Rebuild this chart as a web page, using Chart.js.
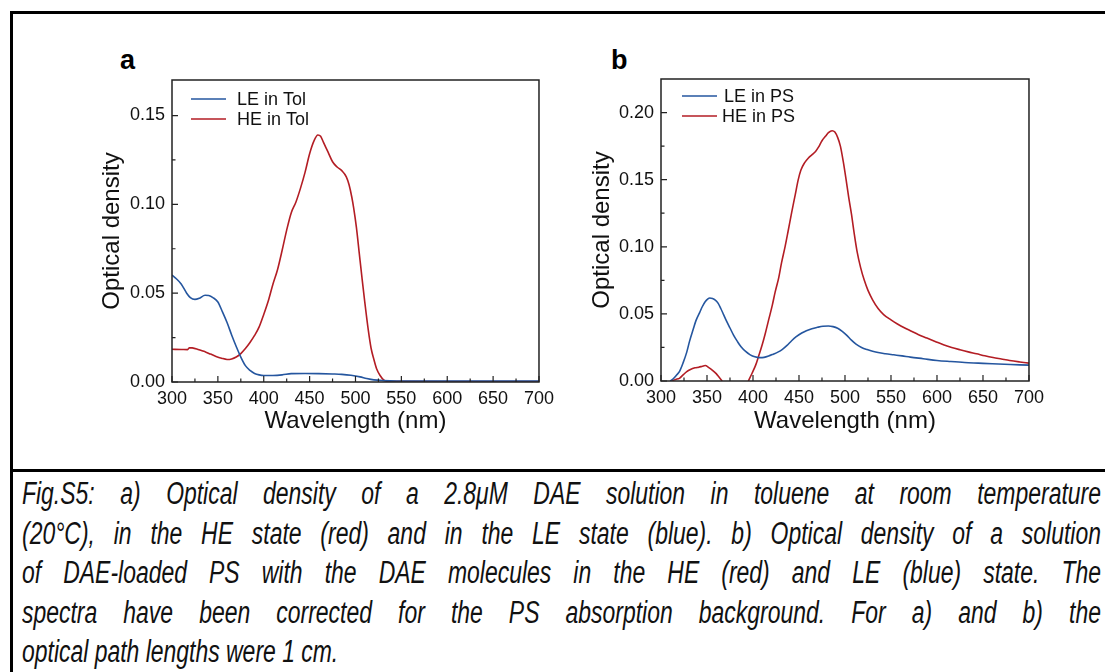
<!DOCTYPE html>
<html>
<head>
<meta charset="utf-8">
<script src="https://cdn.jsdelivr.net/npm/chart.js@4.4.1/dist/chart.umd.min.js"></script>
<style>
    body { margin: 0; width: 1105px; height: 672px; overflow: hidden; background: #fff; position: relative; font-family: 'Liberation Sans', Arial, sans-serif; }
    .frame { position: absolute; left: 10px; top: 11px; width: 1200px; height: 800px; border: 3px solid #000; box-sizing: border-box; }
    .divider { position: absolute; left: 10px; top: 469px; width: 1200px; height: 3px; background: #000; }
    .panel { position: absolute; font-weight: bold; font-size: 27px; line-height: 27px; color: #000; }
    canvas { position: absolute; }
    /* caption set in a narrow italic: squeeze a wider box back to 1079px */
    .caption { position: absolute; left: 22px; top: 474px; width: 1458px; transform: scaleX(0.74); transform-origin: 0 0; font-style: italic; font-size: 31px; line-height: 39.5px; color: #111; }
    .caption div { text-align: justify; text-align-last: justify; white-space: nowrap; }
    .caption div.last { text-align-last: left; }
</style>
</head>
<body>
<div class="frame"></div>
<div class="divider"></div>
<div class="panel" style="left:120px;top:47px">a</div>
<div class="panel" style="left:611px;top:47px">b</div>
<canvas id="chartA" width="470" height="400" style="left:90px;top:40px"></canvas>
<canvas id="chartB" width="470" height="400" style="left:580px;top:40px"></canvas>
<div class="caption">
    <div>Fig.S5: a) Optical density of a 2.8μM DAE solution in toluene at room temperature</div>
    <div>(20°C), in the HE state (red) and in the LE state (blue). b) Optical density of a solution</div>
    <div>of DAE-loaded PS with the DAE molecules in the HE (red) and LE (blue) state. The</div>
    <div>spectra have been corrected for the PS absorption background. For a) and b) the</div>
    <div class="last">optical path lengths were 1 cm.</div>
</div>
<script>
// panel a - toluene
const leTolWl = [300, 305, 310, 316, 320, 325, 330, 336, 340, 345, 350, 355, 360, 365, 370, 375, 380, 385, 390, 395, 400, 410, 420, 430, 445, 460, 475, 485, 495, 505, 512, 520, 530, 545, 600, 650, 700];
const leTolOd = [0.0602, 0.0580, 0.0552, 0.0500, 0.0475, 0.0465, 0.0472, 0.0488, 0.0487, 0.0474, 0.0450, 0.0395, 0.0335, 0.0265, 0.0200, 0.0140, 0.0092, 0.0065, 0.0048, 0.0040, 0.0037, 0.0037, 0.0040, 0.0047, 0.0048, 0.0047, 0.0045, 0.0043, 0.0038, 0.0029, 0.0020, 0.0012, 0.0008, 0.0006, 0.0006, 0.0006, 0.0006];

const heTolWl = [300, 310, 317, 319, 322, 327, 332, 337, 342, 348, 354, 360, 365, 370, 375, 380, 385, 390, 395, 400, 405, 410, 415, 420, 425, 430, 435, 440, 445, 450, 455, 459, 462, 465, 470, 475, 480, 485, 490, 493, 496, 498, 501, 504, 507, 510, 514, 517, 520, 523, 527, 531, 535, 600, 700];
const heTolOd = [0.0184, 0.0183, 0.0182, 0.0193, 0.0192, 0.0186, 0.0177, 0.0168, 0.0157, 0.0144, 0.0134, 0.0127, 0.0130, 0.0141, 0.0160, 0.0188, 0.0222, 0.0262, 0.0310, 0.0380, 0.0457, 0.0550, 0.0632, 0.0740, 0.0855, 0.0953, 0.1012, 0.1090, 0.1180, 0.1285, 0.1360, 0.1390, 0.1383, 0.1350, 0.1295, 0.1240, 0.1210, 0.1190, 0.1155, 0.1110, 0.1040, 0.0980, 0.0870, 0.0730, 0.0590, 0.0455, 0.0290, 0.0190, 0.0128, 0.0075, 0.0035, 0.0010, 0.0004, 0.0003, 0.0003];

// panel b - polystyrene
const lePsWl = [310, 313, 317, 320, 324, 328, 331, 335, 338, 342, 345, 348, 351, 353, 356, 359, 362, 365, 368, 371, 375, 379, 383, 387, 392, 397, 402, 407, 412, 417, 422, 427, 432, 437, 442, 447, 453, 458, 464, 470, 476, 482, 487, 492, 497, 502, 507, 512, 518, 524, 530, 536, 544, 553, 562, 571, 585, 600, 615, 630, 645, 660, 680, 700];
const lePsOd = [0.0000, 0.0015, 0.0045, 0.0070, 0.0135, 0.0215, 0.0295, 0.0385, 0.0450, 0.0510, 0.0555, 0.0590, 0.0612, 0.0618, 0.0614, 0.0603, 0.0580, 0.0540, 0.0495, 0.0450, 0.0395, 0.0340, 0.0295, 0.0255, 0.0220, 0.0195, 0.0180, 0.0174, 0.0176, 0.0186, 0.0200, 0.0215, 0.0236, 0.0265, 0.0300, 0.0330, 0.0358, 0.0375, 0.0390, 0.0400, 0.0408, 0.0410, 0.0405, 0.0393, 0.0370, 0.0340, 0.0305, 0.0275, 0.0250, 0.0234, 0.0222, 0.0212, 0.0203, 0.0195, 0.0187, 0.0178, 0.0166, 0.0153, 0.0145, 0.0138, 0.0133, 0.0128, 0.0123, 0.0118];

const hePsWl = [311, 316, 320, 324, 328, 332, 337, 341, 345, 348, 352, 356, 360, 363, 366.5, 380, 395, 399, 403, 406, 410, 413.5, 417, 421, 424, 428, 431, 435, 438, 442, 446, 449, 452, 456, 460, 464, 468, 471, 475, 479, 482, 486, 489, 492, 495, 498, 501, 504, 507, 510, 513, 517, 521, 525, 530, 536, 542, 550, 557, 565, 571, 580, 589, 598, 607, 616, 625, 634, 643, 652, 661, 670, 679, 690, 700];
const hePsOd = [0.0000, 0.0012, 0.0020, 0.0045, 0.0070, 0.0086, 0.0098, 0.0103, 0.0110, 0.0115, 0.0100, 0.0080, 0.0055, 0.0030, 0.0000, null, 0.0000, 0.0058, 0.0120, 0.0183, 0.0270, 0.0358, 0.0455, 0.0565, 0.0660, 0.0770, 0.0880, 0.1005, 0.1110, 0.1255, 0.1390, 0.1495, 0.1570, 0.1625, 0.1660, 0.1685, 0.1710, 0.1740, 0.1790, 0.1825, 0.1850, 0.1865, 0.1855, 0.1815, 0.1750, 0.1640, 0.1510, 0.1370, 0.1245, 0.1100, 0.0970, 0.0845, 0.0750, 0.0675, 0.0605, 0.0540, 0.0495, 0.0455, 0.0425, 0.0395, 0.0375, 0.0345, 0.0320, 0.0295, 0.0270, 0.0250, 0.0233, 0.0217, 0.0203, 0.0188, 0.0175, 0.0164, 0.0153, 0.0142, 0.0133];

// axes
const xTicks = [300, 350, 400, 450, 500, 550, 600, 650, 700];
const xMinorTicks = [325, 375, 425, 475, 525, 575, 625, 675];
const yTicksA = [0, 0.05, 0.10, 0.15];
const yMinorA = [0.025, 0.075, 0.125];
const yTicksB = [0, 0.05, 0.10, 0.15, 0.20];
const yMinorB = [0.025, 0.075, 0.125, 0.175];

const blue = '#25569f';
const red = '#b31d24';

Chart.defaults.font.family = "'Liberation Sans', Arial, sans-serif";
Chart.defaults.color = '#111';

function toPoints(wl, od) {
    return wl.map((w, i) => ({ x: w, y: od[i] }));
}

// box round the plot area, inward ticks and legend
const frameTicks = {
    id: 'frameTicks',
    afterDraw(chart, args, opts) {
        const ctx = chart.ctx;
        const a = chart.chartArea;
        const x = chart.scales.x;
        const y = chart.scales.y;
        ctx.save();
        ctx.strokeStyle = '#222';
        ctx.lineWidth = 1.5;
        ctx.strokeRect(a.left, a.top, a.right - a.left, a.bottom - a.top);

        ctx.lineWidth = 1.2;
        ctx.beginPath();
        xTicks.forEach(v => { const p = x.getPixelForValue(v); ctx.moveTo(p, a.bottom); ctx.lineTo(p, a.bottom - 6); });
        xMinorTicks.forEach(v => { const p = x.getPixelForValue(v); ctx.moveTo(p, a.bottom); ctx.lineTo(p, a.bottom - 3.5); });
        opts.yMajor.forEach(v => { const p = y.getPixelForValue(v); ctx.moveTo(a.left, p); ctx.lineTo(a.left + 6, p); });
        opts.yMinor.forEach(v => { const p = y.getPixelForValue(v); ctx.moveTo(a.left, p); ctx.lineTo(a.left + 3.5, p); });
        ctx.stroke();

        ctx.font = "18px 'Liberation Sans', Arial, sans-serif";
        ctx.textBaseline = 'middle';
        chart.data.datasets.forEach((ds, i) => {
            const ly = opts.legendY[i];
            ctx.strokeStyle = ds.borderColor;
            ctx.lineWidth = 1.6;
            ctx.beginPath();
            ctx.moveTo(opts.legendX, ly);
            ctx.lineTo(opts.legendX + 35, ly);
            ctx.stroke();
            ctx.fillStyle = '#111';
            ctx.fillText(ds.label, opts.textX[i], ly + 1);
        });
        ctx.restore();
    }
};

function makeChart(id, datasets, yMax, yMajor, yMinor, yWidth, xHeight, pad, legend) {
    return new Chart(document.getElementById(id), {
        type: 'line',
        data: { datasets: datasets },
        options: {
            responsive: false,
            animation: false,
            devicePixelRatio: 1,
            layout: { padding: pad },
            elements: {
                point: { radius: 0 },
                line: { borderWidth: 1.6, cubicInterpolationMode: 'monotone' }
            },
            plugins: {
                legend: { display: false },
                tooltip: { enabled: false },
                frameTicks: { yMajor: yMajor, yMinor: yMinor, legendX: legend.x, legendY: legend.y, textX: legend.textX }
            },
            scales: {
                x: {
                    type: 'linear',
                    min: 300,
                    max: 700,
                    afterBuildTicks: s => { s.ticks = xTicks.map(v => ({ value: v })); },
                    afterFit: s => { s.height = xHeight; },
                    grid: { display: false, drawTicks: false },
                    border: { display: false },
                    ticks: { font: { size: 18 }, padding: 6, maxRotation: 0, autoSkip: false, color: '#111' },
                    title: { display: true, text: 'Wavelength (nm)', font: { size: 24 }, color: '#111', padding: { top: 0, bottom: 4 } }
                },
                y: {
                    min: 0,
                    max: yMax,
                    afterBuildTicks: s => { s.ticks = yMajor.map(v => ({ value: v })); },
                    afterFit: s => { s.width = yWidth; },
                    grid: { display: false, drawTicks: false },
                    border: { display: false },
                    ticks: { font: { size: 18 }, padding: 7, color: '#111', callback: v => v.toFixed(2) },
                    title: { display: true, text: 'Optical density', font: { size: 24 }, color: '#111', padding: { top: 8, bottom: 0 } }
                }
            }
        },
        plugins: [frameTicks]
    });
}

makeChart('chartA', [
    { label: 'LE in Tol', data: toPoints(leTolWl, leTolOd), borderColor: blue },
    { label: 'HE in Tol', data: toPoints(heTolWl, heTolOd), borderColor: red }
], 0.17, yTicksA, yMinorA, 82, 58, { left: 0, top: 40, right: 15, bottom: 0 },
   { x: 101, y: [59, 79], textX: [147, 147] });

makeChart('chartB', [
    { label: 'LE in PS', data: toPoints(lePsWl, lePsOd), borderColor: blue },
    { label: 'HE in PS', data: toPoints(hePsWl, hePsOd), borderColor: red, spanGaps: false }
], 0.225, yTicksB, yMinorB, 81, 59, { left: 0, top: 39, right: 17, bottom: 0 },
   { x: 102, y: [56, 76], textX: [144, 142] });
</script>
</body>
</html>
